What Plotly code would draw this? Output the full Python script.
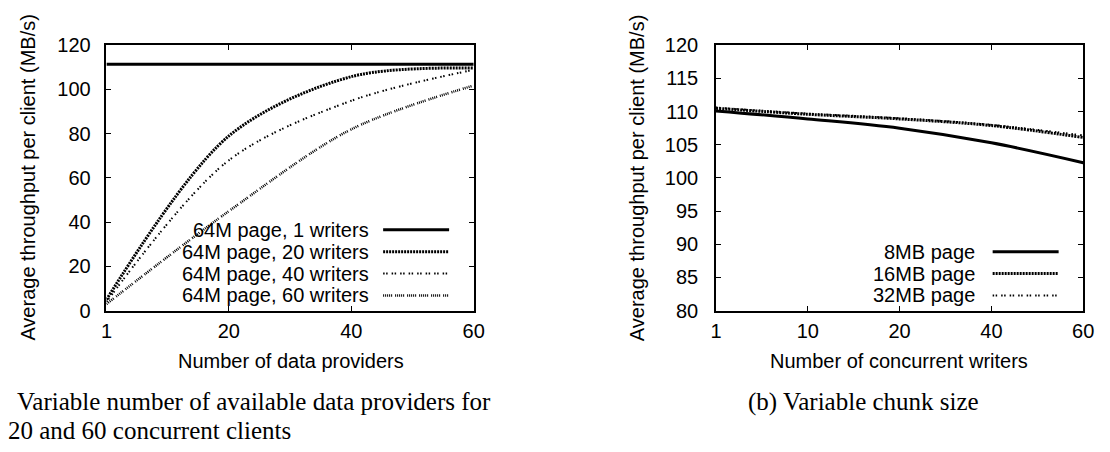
import plotly.graph_objects as go

# ---------------- data ----------------
providers = ["1", "20", "40", "60"]
tp_1_writer = [111.4, 111.4, 111.4, 111.4]
tp_20_writers = [5.0, 79.0, 105.8, 109.7]
tp_40_writers = [4.0, 68.0, 94.9, 108.9]
tp_60_writers = [3.0, 45.0, 82.0, 101.8]
left_names = ["64M page, 1 writers", "64M page, 20 writers",
              "64M page, 40 writers", "64M page, 60 writers"]
left_yticks = [0, 20, 40, 60, 80, 100, 120]

writers = ["1", "10", "20", "40", "60"]
tp_8mb = [110.1, 108.9, 107.5, 105.3, 102.3]
tp_16mb = [110.5, 109.6, 108.9, 107.9, 106.1]
tp_32mb = [110.6, 109.7, 109.0, 108.0, 106.4]
right_names = ["8MB page", "16MB page", "32MB page"]
right_yticks = [80, 85, 90, 95, 100, 105, 110, 115, 120]

y_title = "Average throughput per client (MB/s)"
x_title_left = "Number of data providers"
x_title_right = "Number of concurrent writers"
caption_a1 = "Variable number of available data providers for"
caption_a2 = "20 and 60 concurrent clients"
caption_b = "(b) Variable chunk size"

# ---------------- layout helpers ----------------
W, H = 1110, 452
SANS = "Liberation Sans, Arial, Helvetica, sans-serif"
SERIF = "Liberation Serif, Times New Roman, serif"
FS = 20


def fx(p):
    return p / W


def fy(p):
    return 1 - p / H


SOLID = dict(color="black", width=3, dash="solid")
DENSE = dict(color="black", width=3, dash="2px,1px")
PAIRS = dict(color="black", width=2, dash="1.5px,1.5px,1.5px,4px")
GROUPS = dict(color="black", width=2.5, dash="1px,1px,1px,1px,1px,1px,1px,1px,1px,3px")

left_styles = [SOLID, DENSE, PAIRS, GROUPS]
right_styles = [SOLID, DENSE, PAIRS]

fig = go.Figure()

for name, ys, st in zip(left_names,
                        [tp_1_writer, tp_20_writers, tp_40_writers, tp_60_writers],
                        left_styles):
    fig.add_trace(go.Scatter(x=providers, y=ys, name=name, mode="lines",
                             line=dict(st, shape="spline", smoothing=0.9),
                             xaxis="x", yaxis="y", showlegend=False))

for name, ys, st in zip(right_names, [tp_8mb, tp_16mb, tp_32mb], right_styles):
    fig.add_trace(go.Scatter(x=writers, y=ys, name=name, mode="lines",
                             line=dict(st, shape="spline", smoothing=1.0),
                             xaxis="x2", yaxis="y2", showlegend=False))

axis_common = dict(showline=True, linecolor="black", linewidth=1.5, mirror="ticks",
                   ticks="inside", ticklen=5, tickwidth=1.2, tickcolor="black",
                   showgrid=False, zeroline=False,
                   tickfont=dict(family=SANS, size=FS, color="black"))

ydom = [fy(315), fy(36)]
fig.update_layout(
    width=W, height=H,
    margin=dict(l=0, r=0, t=0, b=0),
    paper_bgcolor="white", plot_bgcolor="white",
    xaxis=dict(axis_common, domain=[fx(102), fx(475)], type="category",
               range=[0, len(providers) - 1], anchor="y", ticklabelstandoff=2),
    yaxis=dict(axis_common, domain=ydom, range=[0, 120], tickvals=left_yticks,
               anchor="x", ticklabelstandoff=10),
    xaxis2=dict(axis_common, domain=[fx(721), fx(1094)], type="category",
                range=[0, len(writers) - 1], anchor="y2", ticklabelstandoff=2),
    yaxis2=dict(axis_common, domain=ydom, range=[80, 120], tickvals=right_yticks,
                anchor="x2", ticklabelstandoff=12),
    showlegend=False,
)

ann = []
shapes = []
sans = dict(family=SANS, size=FS, color="black")
serif = dict(family=SERIF, size=25, color="black")

# axis titles
ann.append(dict(text=y_title, x=fx(22), y=fy(175.5), textangle=-90, font=sans))
ann.append(dict(text=y_title, x=fx(641), y=fy(175.5), textangle=-90, font=sans))
ann.append(dict(text=x_title_left, x=fx(289), y=fy(368), font=sans))
ann.append(dict(text=x_title_right, x=fx(907), y=fy(368), font=sans))

# captions
ann.append(dict(text=caption_a1, x=fx(9), y=fy(411), xanchor="left", font=serif))
ann.append(dict(text=caption_a2, x=fx(0), y=fy(441), xanchor="left", font=serif))
ann.append(dict(text=caption_b, x=fx(752), y=fy(411), xanchor="left", font=serif))

# legends (text on the left, sample on the right)
for i, (name, st) in enumerate(zip(left_names, left_styles)):
    yy = 230 + 23 * i
    ann.append(dict(text=name, x=fx(371), y=fy(yy), xanchor="right", font=sans))
    shapes.append(dict(type="line", xref="paper", yref="paper",
                       x0=fx(383), x1=fx(450), y0=fy(yy), y1=fy(yy), line=st))
for i, (name, st) in enumerate(zip(right_names, right_styles)):
    yy = 253 + 23 * i
    ann.append(dict(text=name, x=fx(986), y=fy(yy), xanchor="right", font=sans))
    shapes.append(dict(type="line", xref="paper", yref="paper",
                       x0=fx(1002), x1=fx(1069), y0=fy(yy), y1=fy(yy), line=st))

for a in ann:
    a.setdefault("xanchor", "center")
    a.update(xref="paper", yref="paper", yanchor="middle", showarrow=False)

fig.update_layout(annotations=ann, shapes=shapes)
fig.write_html("out.html",
               config={"displayModeBar": False},
               post_script="document.body.style.margin='0';"
                           "document.body.style.overflow='hidden';")
